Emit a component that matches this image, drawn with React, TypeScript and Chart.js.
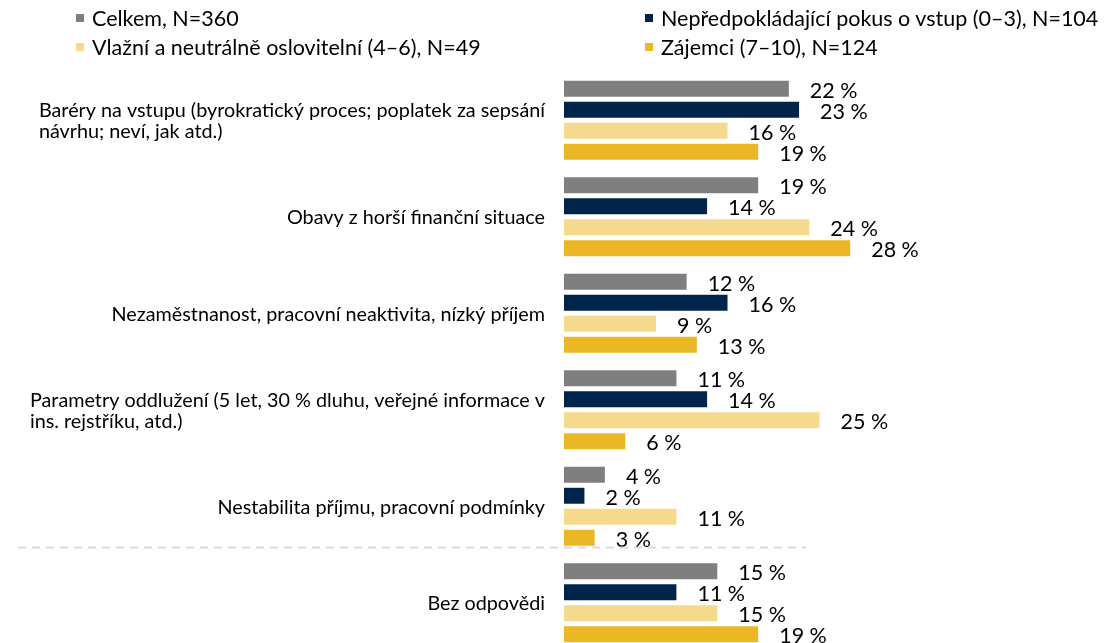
import React, { useEffect, useRef } from "react";
import { Chart, registerables } from "chart.js";

Chart.register(...registerables);

const categories: string[][] = [
  ["Baréry na vstupu (byrokratický proces; poplatek za sepsání", "návrhu; neví, jak atd.)"],
  ["Obavy z horší finanční situace"],
  ["Nezaměstnanost, pracovní neaktivita, nízký příjem"],
  ["Parametry oddlužení (5 let, 30 % dluhu, veřejné informace v", "ins. rejstříku, atd.)"],
  ["Nestabilita příjmu, pracovní podmínky"],
  ["Bez odpovědi"],
];

const seriesNames = [
  "Celkem, N=360",
  "Nepředpokládající pokus o vstup (0–3), N=104",
  "Vlažní a neutrálně oslovitelní (4–6), N=49",
  "Zájemci (7–10), N=124",
];
const seriesColors = ["#7f7f7f", "#00244a", "#f5d98c", "#ebb724"];

const celkem = [22, 19, 12, 11, 4, 15];
const nepredpokladajici = [23, 14, 16, 14, 2, 11];
const vlazni = [16, 24, 9, 25, 11, 15];
const zajemci = [19, 28, 13, 6, 3, 19];

const FONT = "Lato, 'Noto Sans', sans-serif";

const labelsPlugin = {
  id: "customLabels",
  afterDatasetsDraw(chart: any) {
    const ctx = chart.ctx;
    const y = chart.scales.y;
    ctx.save();
    // category labels
    ctx.font = `19.8px ${FONT}`;
    ctx.fillStyle = "#000";
    ctx.textBaseline = "middle";
    ctx.textAlign = "left";
    const lineH = 21;
    categories.forEach((lines, i) => {
      const cy = y.getPixelForValue(i);
      const maxW = Math.max(...lines.map((l) => ctx.measureText(l).width));
      const x0 = 545 - maxW;
      const startY = cy - ((lines.length - 1) * lineH) / 2 + 1;
      lines.forEach((l, j) => ctx.fillText(l, x0, startY + j * lineH));
    });
    // value labels
    ctx.font = `21.5px ${FONT}`;
    chart.data.datasets.forEach((ds: any, di: number) => {
      const meta = chart.getDatasetMeta(di);
      meta.data.forEach((bar: any, i: number) => {
        ctx.fillText(`${ds.data[i]} %`, bar.x + 21, bar.y + 2);
      });
    });
    // dashed separator between last two categories
    const sepY = (y.getPixelForValue(4) + y.getPixelForValue(5)) / 2 - 7;
    ctx.strokeStyle = "#d9d9d9";
    ctx.lineWidth = 2;
    ctx.setLineDash([8, 6]);
    ctx.beginPath();
    ctx.moveTo(18, sepY);
    ctx.lineTo(806, sepY);
    ctx.stroke();
    ctx.restore();
  },
};

export default function App() {
  const ref = useRef<HTMLCanvasElement>(null);
  useEffect(() => {
    document.body.style.margin = "0";
    document.body.style.overflow = "hidden";
    const chart = new Chart(ref.current!, {
      type: "bar",
      data: {
        labels: categories.map((c) => c.join(" ")),
        datasets: [celkem, nepredpokladajici, vlazni, zajemci].map((d, i) => ({
          label: seriesNames[i],
          data: d,
          backgroundColor: seriesColors[i],
          categoryPercentage: 0.87,
          barPercentage: 0.76,
        })),
      },
      options: {
        indexAxis: "y",
        animation: false,
        responsive: false,
        layout: { padding: { left: 564, right: 38, top: 72, bottom: 9 } },
        plugins: { legend: { display: false }, tooltip: { enabled: false } },
        scales: {
          x: { display: false, min: 0, max: 50 },
          y: { display: false },
        },
      },
      plugins: [labelsPlugin],
    });
    return () => chart.destroy();
  }, []);

  const legendPos = [
    { left: 76, top: 18 },
    { left: 645, top: 18 },
    { left: 76, top: 47 },
    { left: 645, top: 47 },
  ];

  return (
    <div style={{ position: "fixed", left: 0, top: 0, width: 1113, height: 660, background: "#fff" }}>
      <canvas ref={ref} width={1113} height={660} style={{ position: "absolute", left: 0, top: 0 }} />
      {seriesNames.map((name, i) => (
        <div
          key={name}
          style={{
            position: "absolute",
            left: legendPos[i].left,
            top: legendPos[i].top - 14,
            height: 28,
            display: "flex",
            alignItems: "center",
            fontFamily: FONT,
            fontSize: 21.5,
            color: "#000",
            whiteSpace: "nowrap",
          }}
        >
          <span style={{ display: "inline-block", width: 8, height: 8, background: seriesColors[i], marginRight: 8 }} />
          {name}
        </div>
      ))}
    </div>
  );
}
